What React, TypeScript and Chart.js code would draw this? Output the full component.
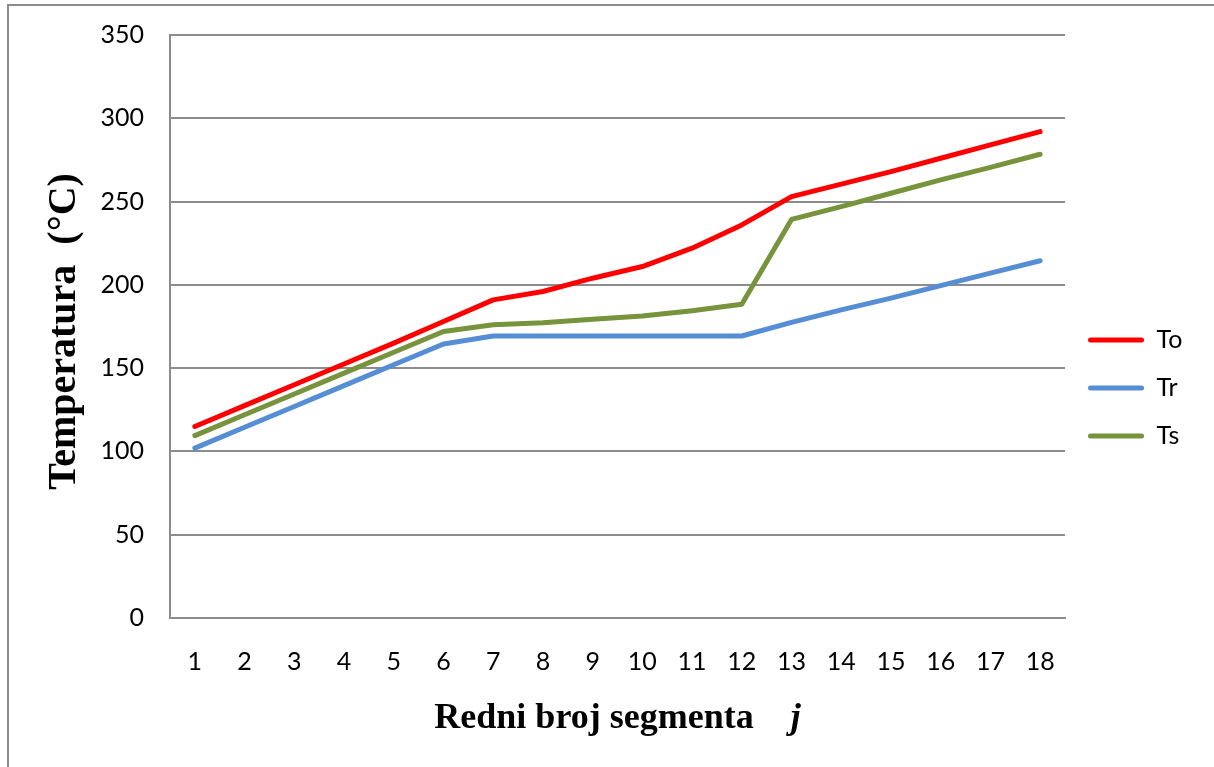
import React, { useEffect, useRef } from 'react';
import { Chart, registerables } from 'chart.js';

Chart.register(...registerables);

// ---- data ----
const categories = ['1', '2', '3', '4', '5', '6', '7', '8', '9', '10', '11', '12', '13', '14', '15', '16', '17', '18'];
const toValues = [115, 127.5, 140, 152.5, 165, 178, 191, 196, 204, 211, 222, 236, 253, 260.5, 268, 276, 284, 292];
const trValues = [102, 114.5, 127, 139.5, 152, 164.5, 169.3, 169.3, 169.3, 169.3, 169.3, 169.3, 177.5, 185, 192, 199.5, 207, 214.5];
const tsValues = [109.5, 122, 134.5, 147, 159.5, 172, 176, 177.3, 179.3, 181.3, 184.5, 188.3, 239.3, 247, 255, 263, 270.5, 278.4];
const seriesNames = ['To', 'Tr', 'Ts'];
const seriesColors = ['#FF0000', '#558ED5', '#77933C'];
const yMin = 0;
const yMax = 350;
const yStep = 50;
const yTitle = 'Temperatura  (°C) ';
const xTitleMain = 'Redni broj segmenta';
const xTitleVar = 'j';

// ---- layout ----
const CW = 1205;
const CH = 761;
const TICK_FONT = 'Lato';
const TICK_SIZE = 25;
const LEGEND_FONT_SIZE = 25;
const LEGEND_PADDING = 23;
const LEGEND_BOX_W = 56;
const PAD_TOP = 29;
const PAD_BOTTOM = 26;
const X_AXIS_H = 123;

const xTitlePlugin = {
  id: 'xTitleMixed',
  afterDraw(chart: any) {
    const ctx = chart.ctx;
    const ca = chart.chartArea;
    ctx.save();
    const f1 = 'bold 36px "Liberation Serif"';
    const f2 = 'italic bold 36px "Liberation Serif"';
    ctx.font = f1;
    const w1 = ctx.measureText(xTitleMain).width;
    ctx.font = f2;
    const w2 = ctx.measureText(xTitleVar).width;
    const gap = 37;
    const total = w1 + gap + w2;
    const x = (ca.left + ca.right) / 2 - total / 2;
    const y = ca.bottom + 110;
    ctx.fillStyle = '#000';
    ctx.textBaseline = 'alphabetic';
    ctx.textAlign = 'left';
    ctx.font = f1;
    ctx.fillText(xTitleMain, x, y);
    ctx.font = f2;
    ctx.fillText(xTitleVar, x + w1 + gap, y);
    ctx.restore();
  },
};

export default function App() {
  const ref = useRef<HTMLCanvasElement | null>(null);

  useEffect(() => {
    const canvas = ref.current;
    if (!canvas) return;

    const mctx = document.createElement('canvas').getContext('2d')!;
    mctx.font = `${LEGEND_FONT_SIZE}px ${TICK_FONT}`;
    const maxText = Math.max(...seriesNames.map((n) => mctx.measureText(n).width));
    const legendWidth = LEGEND_PADDING + LEGEND_BOX_W + LEGEND_FONT_SIZE / 2 + maxText + 10;
    const padRight = Math.max(0, 149 - legendWidth);

    const datasets = [toValues, trValues, tsValues].map((vals, i) => ({
      label: seriesNames[i],
      data: vals,
      borderColor: seriesColors[i],
      backgroundColor: seriesColors[i],
      borderWidth: 5,
      pointRadius: 0,
      pointHoverRadius: 0,
      tension: 0,
      fill: false,
      borderCapStyle: 'round' as const,
      borderJoinStyle: 'round' as const,
    }));

    const chart = new Chart(canvas, {
      type: 'line',
      data: { labels: categories, datasets },
      plugins: [xTitlePlugin],
      options: {
        responsive: false,
        animation: false,
        layout: { padding: { top: PAD_TOP, left: 0, right: padRight, bottom: PAD_BOTTOM } },
        plugins: {
          tooltip: { enabled: false },
          legend: {
            display: true,
            position: 'right',
            labels: {
              boxWidth: LEGEND_BOX_W,
              boxHeight: 5,
              padding: LEGEND_PADDING,
              color: '#000',
              font: { family: TICK_FONT, size: LEGEND_FONT_SIZE },
              useBorderRadius: true,
              borderRadius: 2.5,
              generateLabels: (ch: any) => {
                const base = Chart.defaults.plugins.legend.labels.generateLabels(ch);
                return base.map((it: any, i: number) => ({
                  ...it,
                  fillStyle: seriesColors[i],
                  strokeStyle: seriesColors[i],
                  lineWidth: 0,
                  borderRadius: 2.5,
                }));
              },
            },
          },
        },
        scales: {
          x: {
            type: 'category',
            offset: true,
            grid: { display: false, drawTicks: false },
            border: { display: true, color: '#8c8c8c', width: 2 },
            ticks: {
              color: '#000',
              font: { family: TICK_FONT, size: TICK_SIZE },
              padding: 29,
              maxRotation: 0,
              autoSkip: false,
            },
            afterFit: (scale: any) => {
              scale.height = X_AXIS_H;
            },
          },
          y: {
            min: yMin,
            max: yMax,
            grid: { color: '#8c8c8c', lineWidth: 2, drawTicks: false },
            border: { display: true, color: '#8c8c8c', width: 2 },
            ticks: {
              stepSize: yStep,
              color: '#000',
              font: { family: TICK_FONT, size: TICK_SIZE },
              padding: 26,
            },
            title: {
              display: true,
              text: yTitle,
              color: '#000',
              font: { family: '"Liberation Serif"', size: 40, weight: 'bold', lineHeight: 1 },
              padding: { top: 36, bottom: 0 },
            },
            afterFit: (scale: any) => {
              scale.width = 161;
              scale.paddingTop = 0;
              scale.paddingBottom = 0;
            },
          },
        },
      },
    });

    return () => chart.destroy();
  }, []);

  return (
    <div
      style={{
        position: 'absolute',
        left: 7,
        top: 4,
        width: 1230,
        height: 790,
        border: '2px solid #8c8c8c',
        background: '#fff',
      }}
    >
      <canvas ref={ref} width={CW} height={CH} style={{ display: 'block', width: CW, height: CH }} />
    </div>
  );
}
